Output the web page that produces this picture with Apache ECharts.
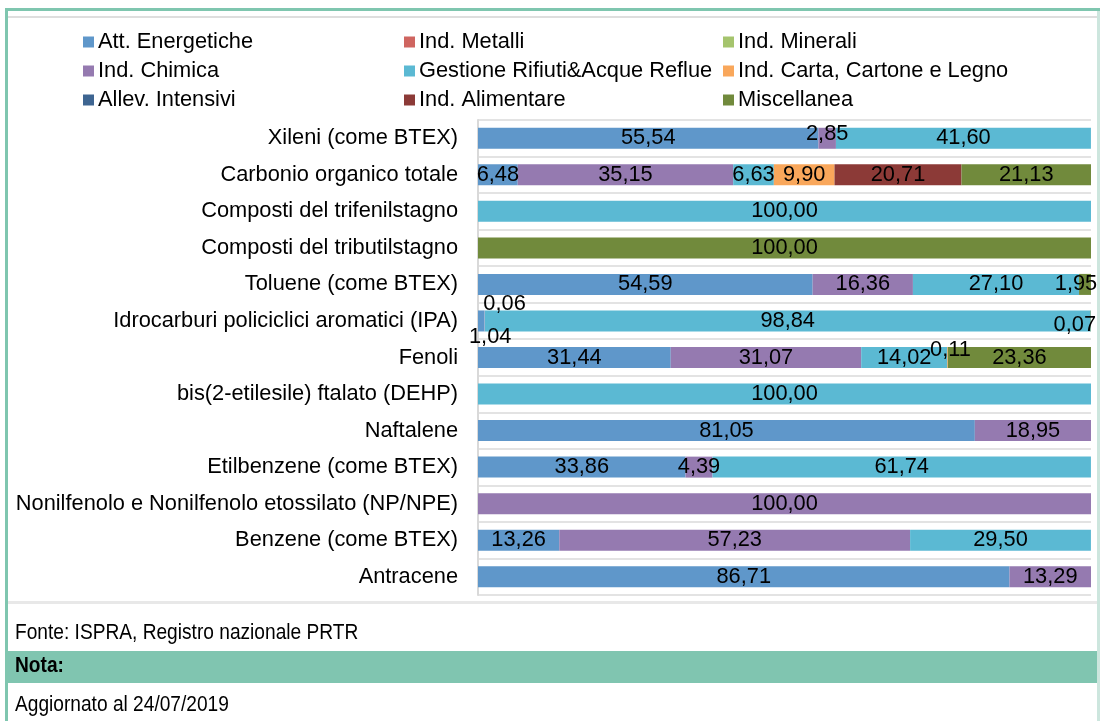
<!DOCTYPE html>
<html>
<head>
<meta charset="utf-8">
<script src="https://cdn.jsdelivr.net/npm/echarts@6/dist/echarts.min.js"></script>
<style>
html,body{margin:0;padding:0;background:#fff;}
#chart{width:1100px;height:721px;}
</style>
</head>
<body>
<div id="chart"></div>
<script>
// Categories (top to bottom)
const categories = [
  'Xileni (come BTEX)',
  'Carbonio organico totale',
  'Composti del trifenilstagno',
  'Composti del tributilstagno',
  'Toluene (come BTEX)',
  'Idrocarburi policiclici aromatici (IPA)',
  'Fenoli',
  'bis(2-etilesile) ftalato (DEHP)',
  'Naftalene',
  'Etilbenzene (come BTEX)',
  'Nonilfenolo e Nonilfenolo etossilato (NP/NPE)',
  'Benzene (come BTEX)',
  'Antracene'
];

// Series values (% share per sector)
const attEnergetiche   = [55.54, 6.48, 0, 0, 54.59, 1.04, 31.44, 0, 81.05, 33.86, 0, 13.26, 86.71];
const indMetalli       = [0, 0, 0, 0, 0, 0, 0, 0, 0, 0, 0, 0, 0];
const indMinerali      = [0, 0, 0, 0, 0, 0, 0, 0, 0, 0, 0, 0, 0];
const indChimica       = [2.85, 35.15, 0, 0, 16.36, 0.06, 31.07, 0, 18.95, 4.39, 100, 57.23, 13.29];
const gestioneRifiuti  = [41.60, 6.63, 100, 0, 27.10, 98.84, 14.02, 100, 0, 61.74, 0, 29.50, 0];
const indCarta         = [0, 9.90, 0, 0, 0, 0, 0.11, 0, 0, 0, 0, 0, 0];
const allevIntensivi   = [0, 0, 0, 0, 0, 0, 0, 0, 0, 0, 0, 0, 0];
const indAlimentare    = [0, 20.71, 0, 0, 0, 0, 0, 0, 0, 0, 0, 0, 0];
const miscellanea      = [0, 21.13, 0, 100, 1.95, 0.07, 23.36, 0, 0, 0, 0, 0, 0];

const seriesNames = [
  'Att. Energetiche', 'Ind. Metalli', 'Ind. Minerali',
  'Ind. Chimica', 'Gestione Rifiuti&Acque Reflue', 'Ind. Carta, Cartone e Legno',
  'Allev. Intensivi', 'Ind. Alimentare', 'Miscellanea'
];
const seriesValues = [
  attEnergetiche, indMetalli, indMinerali,
  indChimica, gestioneRifiuti, indCarta,
  allevIntensivi, indAlimentare, miscellanea
];
const colors = [
  '#5f97ca', '#cf6560', '#a5c46d',
  '#957ab0', '#5bb9d3', '#f9a75b',
  '#3e6591', '#8c3a37', '#718a3c'
];

// Manual label nudges for tiny segments (series index -> {category index: [dx, dy]})
const labelNudges = {
  0: {5: [9, 16]},
  3: {0: [0, -4], 5: [20, -17]},
  5: {6: [3, -8]},
  8: {4: [-9, 0], 5: [-16, 4]}
};

const FONT = "'Liberation Sans', Arial, sans-serif";
const FS = 21.8;

const fmt = v => v.toFixed(2).replace('.', ',');

const series = seriesNames.map((name, si) => ({
  name,
  type: 'bar',
  stack: 'total',
  barWidth: 21,
  itemStyle: {color: colors[si]},
  label: {
    show: true,
    position: 'inside',
    color: '#000',
    fontSize: FS,
    fontFamily: FONT,
    formatter: p => (p.value > 0 ? fmt(p.value) : '')
  },
  emphasis: {disabled: true},
  data: seriesValues[si].map((v, ci) => {
    const n = labelNudges[si] && labelNudges[si][ci];
    return n ? {value: v, label: {offset: n}} : v;
  })
}));

const legendCols = [
  {left: 83, names: [seriesNames[0], seriesNames[3], seriesNames[6]]},
  {left: 404, names: [seriesNames[1], seriesNames[4], seriesNames[7]]},
  {left: 723, names: [seriesNames[2], seriesNames[5], seriesNames[8]]}
];

function footerText(text, y, bold) {
  return {
    type: 'text', x: 15, y: y, scaleX: 0.87, z: 10,
    style: {text: text, x: 0, y: 0, fontSize: 22, fontWeight: bold ? 'bold' : 'normal',
            fontFamily: FONT, fill: '#000', verticalAlign: 'middle', align: 'left'}
  };
}

const chart = echarts.init(document.getElementById('chart'), null, {renderer: 'canvas'});
chart.setOption({
  animation: false,
  backgroundColor: '#ffffff',
  textStyle: {fontFamily: FONT},
  legend: legendCols.map(c => ({
    orient: 'vertical',
    left: c.left,
    top: 31,
    padding: 0,
    itemGap: 7,
    itemWidth: 11,
    itemHeight: 11,
    icon: 'rect',
    selectedMode: false,
    textStyle: {fontSize: FS, color: '#000', fontFamily: FONT, lineHeight: 22, padding: [0, 0, 0, -1]},
    data: c.names
  })),
  grid: {left: 478, right: 9, top: 120, height: 475, containLabel: false},
  xAxis: {
    type: 'value', min: 0, max: 100, show: false
  },
  yAxis: {
    type: 'category',
    inverse: true,
    data: categories,
    axisLine: {show: true, lineStyle: {color: '#d9d9d9', width: 2}},
    axisTick: {show: false},
    axisLabel: {color: '#000', fontSize: FS, fontFamily: FONT, margin: 20},
    splitLine: {show: true, lineStyle: {color: '#e3e3e3', width: 2}}
  },
  graphic: [
    {type: 'rect', shape: {x: 5, y: 8, width: 1095, height: 3}, style: {fill: '#7fc6af'}, z: 10},
    {type: 'rect', shape: {x: 5, y: 8, width: 3, height: 713}, style: {fill: '#7fc6af'}, z: 10},
    {type: 'rect', shape: {x: 1097, y: 11, width: 3, height: 710}, style: {fill: '#cde6de'}, z: 10},
    {type: 'rect', shape: {x: 8, y: 16, width: 1089, height: 2}, style: {fill: '#dedede'}, z: 10},
    {type: 'rect', shape: {x: 8, y: 601, width: 1089, height: 3}, style: {fill: '#e8e8e8'}, z: 10},
    {type: 'rect', shape: {x: 8, y: 651, width: 1089, height: 32}, style: {fill: '#80c5b0'}, z: 5},
    footerText('Fonte: ISPRA, Registro nazionale PRTR', 633, false),
    footerText('Nota:', 666, true),
    footerText('Aggiornato al 24/07/2019', 705, false)
  ],
  series
});
</script>
</body>
</html>
